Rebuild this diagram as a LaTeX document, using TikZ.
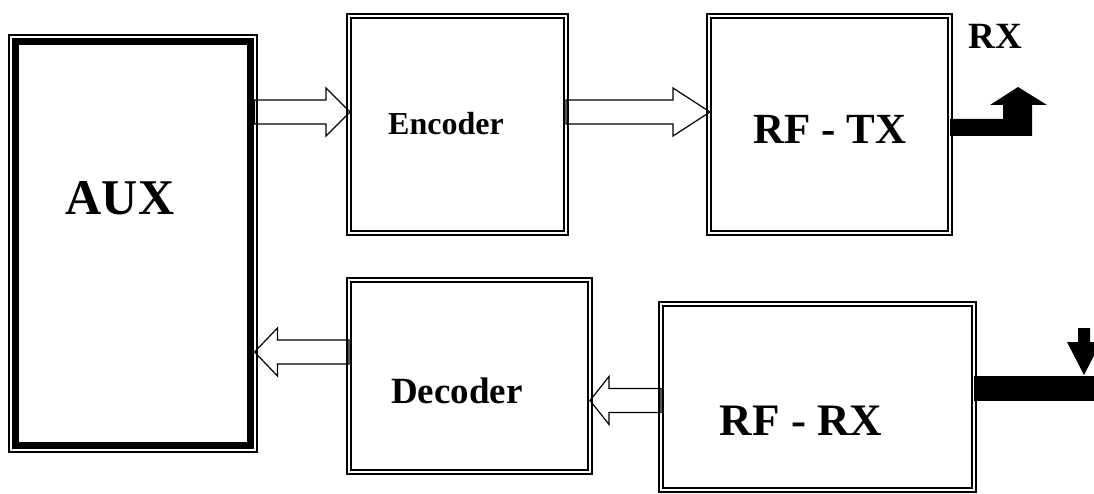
\documentclass[tikz,border=0pt]{standalone}
\usepackage{fontspec}
\setmainfont{Liberation Serif}
\usetikzlibrary{calc}

% wide hollow arrow: #1 tail, #2 tip, #3 signed head length
\newcommand{\hollowarrow}[3]{%
  \draw[line width=1.2pt] ($(#1)+(0,-12)$) -- ($(#2)+(#3,-12)$) -- ($(#2)+(#3,-24)$) -- (#2)
    -- ($(#2)+(#3,24)$) -- ($(#2)+(#3,12)$) -- ($(#1)+(0,12)$) -- cycle;}

\begin{document}
\begin{tikzpicture}[
  x=1pt, y=-1pt,
  dbox/.style={draw, double, double distance=2.4pt, line width=1.8pt, outer sep=0pt, inner sep=0pt},
  auxbox/.style={draw, line width=7pt, outer sep=0pt, inner sep=0pt},
  lbl/.style={anchor=base, inner sep=0pt, font=\fontsize{#1}{#1}\selectfont\bfseries}
]
\useasboundingbox (0,0) rectangle (1094,494);

% blocks
\node[auxbox, minimum width=235pt, minimum height=404pt] (AUX) at (133,243.5) {};
\draw[line width=1.8pt] ($(AUX.north west)+(-6.6,-6.6)$) rectangle ($(AUX.south east)+(6.6,6.6)$);
\node[dbox, minimum width=217pt, minimum height=217pt] (Encoder) at (457.5,124.5) {};
\node[dbox, minimum width=241pt, minimum height=217pt] (RFTX) at (829.5,124.5) {};
\node[dbox, minimum width=241pt, minimum height=192pt] (Decoder) at (469.5,376) {};
\node[dbox, minimum width=313pt, minimum height=186pt] (RFRX) at (817.5,397) {};

% labels
\node[lbl=50] (aux label) at (120,215) {AUX};
\node[lbl=32] (enc label) at (446,135) {Encoder};
\node[lbl=43] (tx label) at (830,144) {RF - TX};
\node[lbl=37] (rx top label) at (995,49) {RX};
\node[lbl=37] (dec label) at (457,403) {Decoder};
\node[lbl=45] (rx label) at (801,435) {RF - RX};

% rows of the data arrows
\coordinate (row1) at (0,112);
\coordinate (row2) at (0,352);
\coordinate (row3) at (0,400.5);

\coordinate (aux out) at ($(AUX.east |- row1)+(4,0)$);
\coordinate (enc in) at ($(Encoder.west |- row1)+(1,0)$);
\coordinate (enc out) at (Encoder.east |- row1);
\coordinate (tx in) at ($(RFTX.west |- row1)+(1,0)$);
\coordinate (dec out) at (Decoder.west |- row2);
\coordinate (aux in) at ($(AUX.east |- row2)+(4,0)$);
\coordinate (rx out) at (RFRX.west |- row3);
\coordinate (dec in) at (Decoder.east |- row3);

\hollowarrow{aux out}{enc in}{-24}
\hollowarrow{enc out}{tx in}{-37}
\hollowarrow{dec out}{aux in}{23}
\hollowarrow{rx out}{dec in}{19}

% antennas
\fill (RFTX.east) ++(0,-5.5) -- ++(53,0) -- ++(0,-14) -- ++(-13,0) -- ++(28,-18)
  -- ++(29,18) -- ++(-15,0) -- ++(0,31) -- ++(-82,0) -- cycle;
\fill ($(RFRX.east)+(0,-21)$) rectangle (1094,401);
\coordinate (rx ant) at (1084,375);
\fill (rx ant) ++(-6,-47) -- ++(12,0) -- ++(0,14) -- ++(11,0) -- (rx ant)
  -- ++(-17,-33) -- ++(11,0) -- cycle;

\end{tikzpicture}
\end{document}
